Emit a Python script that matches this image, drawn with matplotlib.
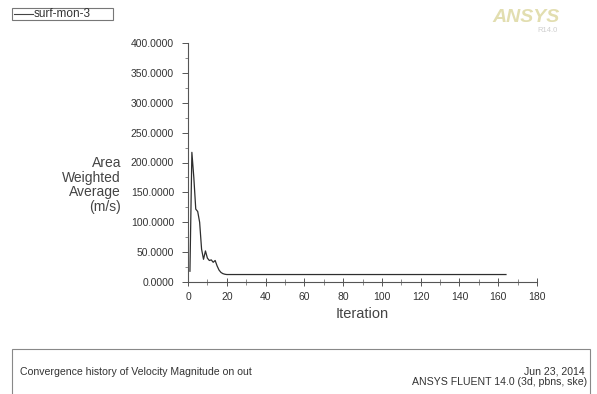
import matplotlib
matplotlib.use("Agg")
import matplotlib.pyplot as plt
from matplotlib.patches import Rectangle
from matplotlib.lines import Line2D
from matplotlib.ticker import MultipleLocator, FormatStrFormatter

plt.rcParams['font.family'] = ['Liberation Sans', 'DejaVu Sans']

# ---- data ----
iterations = [1, 2, 3, 4, 5, 6, 7, 8, 9, 10, 11, 12, 13, 14, 15, 16, 17, 18, 19, 20, 21, 164]
values = [18, 217, 175, 122, 118, 100, 55, 38, 52, 40, 36, 37, 33, 36, 27, 20, 16, 14, 13, 12.5, 12.5, 12.5]
series_name = "surf-mon-3"
x_label = "Iteration"
y_label = "Area\nWeighted\nAverage\n(m/s)"
footer_left = "Convergence history of Velocity Magnitude on out"
footer_right = ["Jun 23, 2014", "ANSYS FLUENT 14.0 (3d, pbns, ske)"]

W, H = 597, 394
fig = plt.figure(figsize=(W / 100, H / 100), dpi=100)
fig.patch.set_facecolor('white')

def fx(px):
    return px / W

def fy(py):
    return 1 - py / H

ax_l, ax_r, ax_t, ax_b = 188, 537, 43, 282
ax = fig.add_axes([fx(ax_l), fy(ax_b), fx(ax_r - ax_l), (ax_b - ax_t) / H])
ax.plot(iterations, values, color='#2e2e2e', lw=0.9)
ax.set_xlim(0, 180)
ax.set_ylim(0, 400)
for s in ['top', 'right']:
    ax.spines[s].set_visible(False)
for s in ['left', 'bottom']:
    ax.spines[s].set_color('#555555')
    ax.spines[s].set_linewidth(0.8)
ax.xaxis.set_major_locator(MultipleLocator(20))
ax.xaxis.set_minor_locator(MultipleLocator(10))
ax.yaxis.set_major_locator(MultipleLocator(50))
ax.yaxis.set_minor_locator(MultipleLocator(25))
ax.yaxis.set_major_formatter(FormatStrFormatter('%.4f'))
ax.tick_params(axis='x', which='major', direction='inout', length=6, width=0.7,
               color='#555555', labelsize=7.5, labelcolor='#333333', pad=4)
ax.tick_params(axis='x', which='minor', direction='inout', length=4, width=0.6, color='#777777')
ax.tick_params(axis='y', which='major', direction='out', length=4, width=0.7,
               color='#555555', labelsize=7.5, labelcolor='#333333', pad=6)
ax.tick_params(axis='y', which='minor', direction='out', length=2.5, width=0.6, color='#777777')

ax.set_xlabel(x_label, fontsize=10.5, color='#444444', labelpad=4)
fig.text(fx(121), fy(185), y_label, ha='right', va='center', fontsize=10,
         color='#444444', linespacing=1.05)

# legend box
fig.patches.append(Rectangle((fx(12), fy(20)), fx(113 - 12), (20 - 8) / H,
                             transform=fig.transFigure, fill=False,
                             edgecolor='#777777', lw=0.8))
fig.lines.append(Line2D([fx(14), fx(33)], [fy(14), fy(14)],
                        transform=fig.transFigure, color='#444444', lw=0.8))
fig.text(fx(34), fy(14), series_name, ha='left', va='center', fontsize=8.5,
         color='#333333')

# logo
fig.text(fx(560), fy(18), "ANSYS", ha='right', va='center', fontsize=14,
         fontweight='bold', style='italic', color='#e2deb0')
fig.text(fx(558), fy(31), "R14.0", ha='right', va='center', fontsize=5.5,
         color='#cfcfcf')

# footer box
fig.patches.append(Rectangle((fx(12), fy(400)), fx(590 - 12), (400 - 349) / H,
                             transform=fig.transFigure, fill=False,
                             edgecolor='#888888', lw=0.8))
fig.text(fx(20), fy(372), footer_left, ha='left', va='center', fontsize=7.6,
         color='#333333')
fig.text(fx(585), fy(371), footer_right[0], ha='right', va='center', fontsize=7.6,
         color='#333333')
fig.text(fx(587), fy(382), footer_right[1], ha='right', va='center', fontsize=7.6,
         color='#333333')

fig.savefig("out.png", dpi=100, facecolor='white')
